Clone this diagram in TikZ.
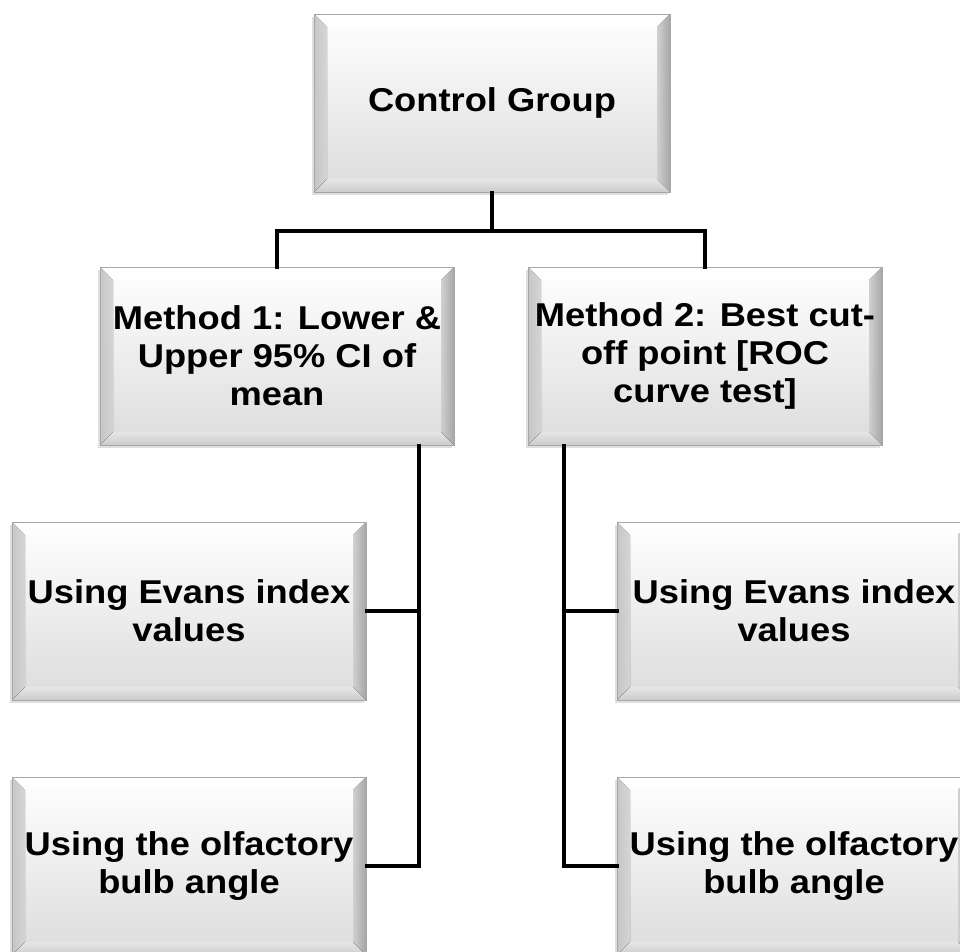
\documentclass[tikz,border=0pt]{standalone}
\usepackage{fontspec}
\setmainfont{Liberation Sans}[FakeStretch=1.1]
\usepackage{tikz}
\usetikzlibrary{calc,shadows}
\definecolor{bxedge}{HTML}{A6A6A6}
\definecolor{bxlow}{HTML}{DCDCDC}
\tikzset{
  every picture/.style={line cap=rect, line join=miter},
  bevelbox/.style={draw=bxedge, line width=1pt, top color=white, bottom color=bxlow,
    minimum width=354pt, minimum height=178pt, inner sep=0pt, align=center,
    font=\fontsize{33}{38}\selectfont\bfseries,
    drop shadow={shadow xshift=-2pt, shadow yshift=-3pt, opacity=0.25, fill=gray},
    path picture={
      \coordinate (nw) at (path picture bounding box.north west);
      \coordinate (ne) at (path picture bounding box.north east);
      \coordinate (sw) at (path picture bounding box.south west);
      \coordinate (se) at (path picture bounding box.south east);
      % bevel bands
      \fill[white, opacity=0.9] (nw) -- (ne) -- ($(ne)+(-13pt,-13pt)$) -- ($(nw)+(13pt,-13pt)$) -- cycle;
      \fill[left color=white!85!gray, right color=white, opacity=0.8]
        (nw) -- ($(nw)+(13pt,-13pt)$) -- ($(sw)+(13pt,13pt)$) -- (sw) -- cycle;
      \fill[left color=white!95!gray, right color=gray!45, opacity=0.8]
        (ne) -- (se) -- ($(se)+(-13pt,13pt)$) -- ($(ne)+(-13pt,-13pt)$) -- cycle;
      \fill[top color=gray!20, bottom color=gray!40]
        (sw) -- ($(sw)+(13pt,13pt)$) -- ($(se)+(-13pt,13pt)$) -- (se) -- cycle;
    }},
  link/.style={black, line width=4pt},
}
\begin{document}
\begin{tikzpicture}[x=1pt, y=-1pt]
\useasboundingbox (0,0) rectangle (960,951);
% top level
\node[bevelbox, minimum width=356pt] (ctrl) at (492,103) {Control Group};
% the two methods
\node[bevelbox] (m1) at (277,356) {Method 1: Lower \&\\Upper 95\% CI of\\mean};
\node[bevelbox] (m2) at (705,356) {Method 2: Best cut-\\off point [ROC\\curve test]};
% measures under each method
\node[bevelbox] (e1) at (189,611) {Using Evans index\\values};
\node[bevelbox] (o1) at (189,866) {Using the olfactory\\bulb angle};
\node[bevelbox] (e2) at (794,611) {Using Evans index\\values};
\node[bevelbox] (o2) at (794,866) {Using the olfactory\\bulb angle};
% connectors
\draw[link] (ctrl.south) -- ++(0,38) -| (m1.north);
\draw[link] (ctrl.south) -- ++(0,38) -| (m2.north);
\coordinate (m1s) at ([xshift=142pt]m1.south);
\coordinate (m2s) at ([xshift=-141pt]m2.south);
\draw[link] (m1s) |- (e1.east);
\draw[link] (m1s) |- (o1.east);
\draw[link] (m2s) |- (e2.west);
\draw[link] (m2s) |- (o2.west);
\end{tikzpicture}
\end{document}
